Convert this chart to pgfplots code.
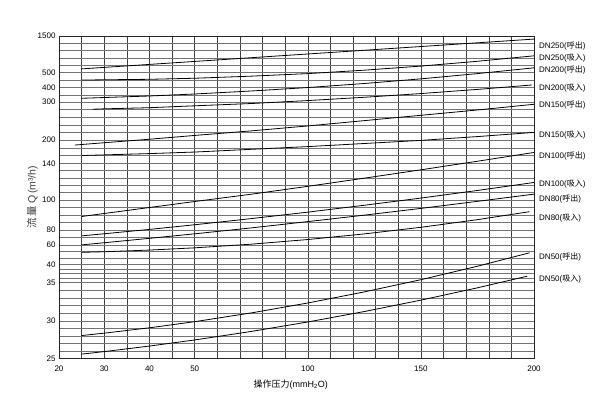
\documentclass[border=0pt]{standalone}
\usepackage{fontspec}
\setmainfont{Liberation Sans}
\newfontfamily\cjk{Noto Sans CJK SC}
\usepackage{pgfplots}
\pgfplotsset{compat=1.18}
\newcommand{\zh}[1]{{\cjk #1}}

\begin{document}
\begin{tikzpicture}[
	declare function={
		% the chart's own scales: x by 5 up to 50, then by 10; y piecewise between the printed ticks
		xmap(\x)=0.2*(\x-20)-0.1*max(\x-50,0);
		qmap(\q)=7.46*(\q-25)+0.24*max(\q-30,0)-4.1*max(\q-35,0)-2.625*max(\q-40,0)-0.225*max(\q-60,0)+0.75*max(\q-80,0)-0.5825*max(\q-100,0)-0.52917*max(\q-140,0)-0.00833*max(\q-200,0)-0.237*max(\q-300,0)+0.007*max(\q-400,0)-0.1133*max(\q-500,0);
	},
	lbl/.style={anchor=west, xshift=4pt, inner sep=1pt, font=\fontsize{8}{9}\selectfont},
	curve/.style={black, line width=0.8pt}]
\useasboundingbox (0,0) rectangle (600pt,400pt);
\begin{axis}[
	at={(59pt,41.7pt)}, anchor=south west,
	scale only axis, width=475pt, height=322.3pt,
	xmin=0, xmax=21, ymin=0, ymax=322.3,
	xtick={0,2,4,6,11,16,21},
	xticklabels={20,30,40,50,100,150,200},
	minor xtick={1,3,5,7,8,9,10,12,13,14,15,17,18,19,20},
	ytick={0,37.3,75.8,93.8,113.3,128.3,158.3,195,218.3,256.3,270.6,285.6,322.3},
	yticklabels={25,30,35,40,60,80,100,140,200,300,400,500,1500},
	minor ytick={7.46,14.92,22.38,29.84,45.0,52.7,60.4,68.1,80.3,84.8,89.3,100.3,106.8,120.8,135.8,143.3,150.8,165.64,172.98,180.32,187.66,202.77,210.53,225.9,233.5,241.1,248.7,263.45,278.1,292.94,300.28,307.62,314.96},
	grid=both,
	major x grid style={black!75, line width=0.5pt},
	minor x grid style={black!75, line width=0.5pt},
	major y grid style={black!55, line width=0.5pt},
	minor y grid style={black!55, line width=0.5pt},
	major tick length=0pt, minor tick length=0pt,
	axis line style={black!85, line width=0.6pt},
	tick label style={font=\fontsize{8}{9}\selectfont},
	xticklabel style={yshift=-4pt},
	xlabel={\zh{操作压力}(mmH\textsubscript{2}O)},
	ylabel={\zh{流\,量}\,Q\,(m³/h)},
	xlabel style={font=\fontsize{9}{10}\selectfont, at={(axis description cs:0.488,-0.081)}, anchor=center},
	ylabel style={font=\fontsize{10.5}{12}\selectfont, text=black!75, at={(axis description cs:-0.056,0.5)}, anchor=center},
	clip mode=individual,
	]
	% DN250 out
	\addplot[curve] table[x expr={xmap(\thisrow{x})}, y expr={qmap(\thisrow{q})}, row sep=\\] {
		x q\\ 25 604\\ 50 807\\ 100 1010\\ 150 1213\\ 200 1416\\};
	% DN250 in
	\addplot[curve] table[x expr={xmap(\thisrow{x})}, y expr={qmap(\thisrow{q})}, row sep=\\] {
		x q\\ 25 451\\ 40 456\\ 50 463\\ 75 477\\ 100 494\\ 125 569\\ 150 680\\ 175 811\\ 200 960\\};
	% DN200 out
	\addplot[curve] table[x expr={xmap(\thisrow{x})}, y expr={qmap(\thisrow{q})}, row sep=\\] {
		x q\\ 25 326\\ 40 342\\ 50 356\\ 75 377\\ 100 401\\ 125 428\\ 150 459\\ 175 494\\ 200 633\\};
	% DN200 in
	\addplot[curve] table[x expr={xmap(\thisrow{x})}, y expr={qmap(\thisrow{q})}, row sep=\\] {
		x q\\ 27.5 281\\ 30 282\\ 40 285\\ 50 290\\ 75 296\\ 100 310\\ 125 333\\ 150 359\\ 175 388\\ 199 418\\};
	% DN150 out
	\addplot[curve] table[x expr={xmap(\thisrow{x})}, y expr={qmap(\thisrow{q})}, row sep=\\] {
		x q\\ 23.5 187\\ 30 193\\ 40 202\\ 50 212\\ 75 224\\ 100 237\\ 125 251\\ 150 265\\ 175 279\\ 200 294\\};
	% DN150 in
	\addplot[curve] table[x expr={xmap(\thisrow{x})}, y expr={qmap(\thisrow{q})}, row sep=\\] {
		x q\\ 25 160\\ 40 165\\ 50 169\\ 75 176\\ 100 183\\ 125 191\\ 150 199\\ 175 209\\ 200 220\\};
	% DN100 out
	\addplot[curve] table[x expr={xmap(\thisrow{x})}, y expr={qmap(\thisrow{q})}, row sep=\\] {
		x q\\ 25 89\\ 30 91\\ 40 95\\ 50 99\\ 75 106.3\\ 100 114.9\\ 125 123.8\\ 150 132.9\\ 175 145.3\\ 200 167.9\\};
	% DN100 in
	\addplot[curve] table[x expr={xmap(\thisrow{x})}, y expr={qmap(\thisrow{q})}, row sep=\\] {
		x q\\ 25 72.2\\ 30 75\\ 40 80.4\\ 50 83.5\\ 75 87.6\\ 100 91.9\\ 125 96.5\\ 150 102.1\\ 175 110.4\\ 200 119.1\\};
	% DN80 out
	\addplot[curve] table[x expr={xmap(\thisrow{x})}, y expr={qmap(\thisrow{q})}, row sep=\\] {
		x q\\ 25 60.2\\ 30 63\\ 40 68.9\\ 50 74.9\\ 75 81.4\\ 100 85.6\\ 125 89.9\\ 150 94.4\\ 175 99.1\\ 200 106.4\\};
	% DN80 in
	\addplot[curve] table[x expr={xmap(\thisrow{x})}, y expr={qmap(\thisrow{q})}, row sep=\\] {
		x q\\ 25 52.5\\ 30 53.1\\ 40 54.8\\ 50 57.1\\ 75 61.1\\ 100 67.3\\ 125 74.8\\ 150 81.8\\ 175 86.9\\ 198 92.2\\};
	% DN50 out
	\addplot[curve] table[x expr={xmap(\thisrow{x})}, y expr={qmap(\thisrow{q})}, row sep=\\] {
		x q\\ 25 28.05\\ 30 28.37\\ 40 29.09\\ 50 29.91\\ 75 31.05\\ 100 32.34\\ 125 33.78\\ 150 35.78\\ 175 39.52\\ 198 52.0\\};
	% DN50 in
	\addplot[curve] table[x expr={xmap(\thisrow{x})}, y expr={qmap(\thisrow{q})}, row sep=\\] {
		x q\\ 25 25.56\\ 30 25.9\\ 40 26.64\\ 50 27.46\\ 75 28.6\\ 100 29.87\\ 125 31.23\\ 150 32.71\\ 175 34.31\\ 197 36.75\\};

	\node[lbl] at (axis cs:21,312.6) {DN250(\zh{呼出})};
	\node[lbl] at (axis cs:21,300) {DN250(\zh{吸入})};
	\node[lbl] at (axis cs:21,288.3) {DN200(\zh{呼出})};
	\node[lbl] at (axis cs:21,270.6) {DN200(\zh{吸入})};
	\node[lbl] at (axis cs:21,253.3) {DN150(\zh{呼出})};
	\node[lbl] at (axis cs:21,223.3) {DN150(\zh{吸入})};
	\node[lbl] at (axis cs:21,202.6) {DN100(\zh{呼出})};
	\node[lbl] at (axis cs:21,174.3) {DN100(\zh{吸入})};
	\node[lbl] at (axis cs:21,159) {DN80(\zh{呼出})};
	\node[lbl] at (axis cs:21,140.6) {DN80(\zh{吸入})};
	\node[lbl] at (axis cs:21,101) {DN50(\zh{呼出})};
	\node[lbl] at (axis cs:21,79) {DN50(\zh{吸入})};
\end{axis}
\end{tikzpicture}
\end{document}
